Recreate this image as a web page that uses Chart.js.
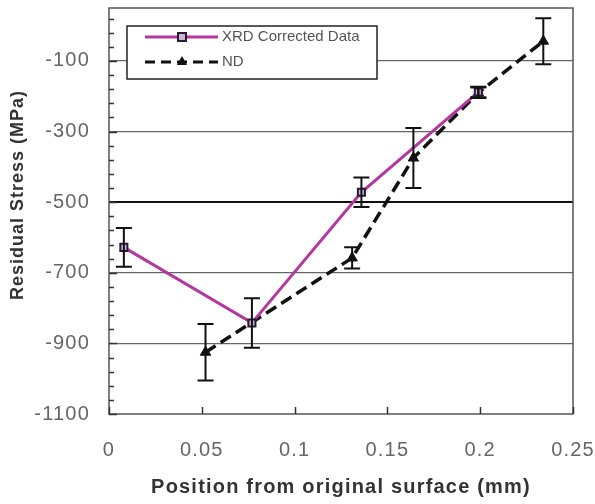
<!DOCTYPE html>
<html>
<head>
<meta charset="utf-8">
<script src="https://cdn.jsdelivr.net/npm/chart.js@4.4.1/dist/chart.umd.min.js"></script>
<style>
  html, body { margin: 0; padding: 0; background: #fff; }
  #wrap { width: 595px; height: 504px; }
</style>
</head>
<body>
<div id="wrap"><canvas id="chart" width="595" height="504"></canvas></div>
<script>
// Data
const xrdX = [0.008, 0.077, 0.136, 0.199];
const xrdY = [-628, -842, -472, -188];
const xrdErr = [55, 70, 42, 15];

const ndX = [0.052, 0.131, 0.164, 0.199, 0.234];
const ndY = [-925, -658, -375, -190, -44];
const ndErr = [80, 30, 85, 15, 65];

const xTicks = [0, 0.05, 0.1, 0.15, 0.2, 0.25];
const yTicks = [-1100, -900, -700, -500, -300, -100];
const yMinorStep = 40;

const FONT = "'Liberation Sans', Arial, sans-serif";
const MAGENTA = '#b3379f';

function toPoints(xs, ys) {
    return xs.map((x, i) => ({ x: x, y: ys[i] }));
}

// Error bars, frame, inward ticks, y title and the boxed legend
const extrasPlugin = {
    id: 'extras',
    beforeDraw(chart) {
        chart.ctx.letterSpacing = '1.2px';
    },
    afterDatasetsDraw(chart) {
        const ctx = chart.ctx;
        const xs = chart.scales.x, ys = chart.scales.y;
        const sets = [[xrdX, xrdY, xrdErr], [ndX, ndY, ndErr]];
        ctx.save();
        ctx.strokeStyle = '#111';
        ctx.lineWidth = 2;
        sets.forEach(([X, Y, E]) => {
            X.forEach((x, i) => {
                const px = xs.getPixelForValue(x);
                const top = ys.getPixelForValue(Y[i] + E[i]);
                const bot = ys.getPixelForValue(Y[i] - E[i]);
                ctx.beginPath();
                ctx.moveTo(px, top); ctx.lineTo(px, bot);
                ctx.moveTo(px - 8, top); ctx.lineTo(px + 8, top);
                ctx.moveTo(px - 8, bot); ctx.lineTo(px + 8, bot);
                ctx.stroke();
            });
        });
        ctx.restore();
    },
    afterDraw(chart) {
        const ctx = chart.ctx;
        const a = chart.chartArea;
        const xs = chart.scales.x, ys = chart.scales.y;
        ctx.save();
        // frame
        ctx.strokeStyle = '#555';
        ctx.lineWidth = 1.5;
        ctx.strokeRect(a.left, a.top, a.right - a.left, a.bottom - a.top);
        // y ticks (inward)
        ctx.strokeStyle = '#333';
        ctx.lineWidth = 1.5;
        for (let v = yTicks[0]; v <= ys.max; v += yMinorStep) {
            const py = Math.round(ys.getPixelForValue(v)) + 0.5;
            const major = yTicks.includes(v);
            ctx.beginPath();
            ctx.moveTo(a.left, py);
            ctx.lineTo(a.left + (major ? 8 : 5), py);
            ctx.stroke();
        }
        // x ticks (inward)
        xTicks.forEach(v => {
            const px = Math.round(xs.getPixelForValue(v)) + 0.5;
            ctx.beginPath();
            ctx.moveTo(px, a.bottom);
            ctx.lineTo(px, a.bottom - 7);
            ctx.stroke();
        });
        // y title
        ctx.save();
        ctx.letterSpacing = '1px';
        ctx.translate(18, 195);
        ctx.rotate(-Math.PI / 2);
        ctx.fillStyle = '#333';
        ctx.font = 'bold 18px ' + FONT;
        ctx.textAlign = 'center';
        ctx.textBaseline = 'middle';
        ctx.fillText('Residual Stress (MPa)', 0, 0);
        ctx.restore();
        // legend box
        ctx.letterSpacing = '0px';
        const lx = 127, ly = 26, lw = 250, lh = 53;
        ctx.fillStyle = '#fff';
        ctx.fillRect(lx, ly, lw, lh);
        ctx.strokeStyle = '#222';
        ctx.lineWidth = 1.5;
        ctx.strokeRect(lx, ly, lw, lh);
        // XRD entry
        ctx.strokeStyle = MAGENTA;
        ctx.lineWidth = 3;
        ctx.beginPath(); ctx.moveTo(145, 37); ctx.lineTo(218, 37); ctx.stroke();
        ctx.fillStyle = '#c9b7d0';
        ctx.fillRect(178, 33, 8, 8);
        ctx.strokeStyle = '#2a1a3a';
        ctx.lineWidth = 2;
        ctx.strokeRect(178, 33, 8, 8);
        // ND entry
        ctx.strokeStyle = '#111';
        ctx.lineWidth = 3;
        ctx.setLineDash([10, 6]);
        ctx.beginPath(); ctx.moveTo(145, 62); ctx.lineTo(218, 62); ctx.stroke();
        ctx.setLineDash([]);
        ctx.fillStyle = '#111';
        ctx.beginPath();
        ctx.moveTo(182, 56); ctx.lineTo(187, 65); ctx.lineTo(177, 65); ctx.closePath();
        ctx.fill();
        ctx.fillStyle = '#555';
        ctx.font = '15px ' + FONT;
        ctx.textBaseline = 'middle';
        ctx.fillText('XRD Corrected Data', 222, 37);
        ctx.fillText('ND', 222, 62);
        ctx.restore();
        ctx.letterSpacing = '0px';
    }
};

new Chart(document.getElementById('chart'), {
    type: 'line',
    data: {
        datasets: [
            {
                label: 'XRD Corrected Data',
                data: toPoints(xrdX, xrdY),
                borderColor: MAGENTA,
                borderWidth: 3,
                pointStyle: 'rect',
                pointRadius: 5,
                pointBackgroundColor: '#c9b7d0',
                pointBorderColor: '#2a1a3a',
                pointBorderWidth: 2,
                tension: 0
            },
            {
                label: 'ND',
                data: toPoints(ndX, ndY),
                borderColor: '#111',
                borderWidth: 3.5,
                borderDash: [12, 6],
                pointStyle: 'triangle',
                pointRadius: 6,
                pointBackgroundColor: '#111',
                pointBorderColor: '#111',
                pointBorderWidth: 1,
                tension: 0
            }
        ]
    },
    options: {
        responsive: false,
        animation: false,
        layout: { padding: { left: 0, top: 8, right: 22, bottom: 0 } },
        plugins: {
            legend: { display: false },
            tooltip: { enabled: false }
        },
        scales: {
            x: {
                type: 'linear',
                min: 0,
                max: 0.25,
                afterBuildTicks: (scale) => { scale.ticks = xTicks.map(v => ({ value: v })); },
                afterFit: (scale) => {
                    scale.height = 90;
                    scale.paddingLeft = 0;
                    scale.paddingRight = 0;
                },
                grid: { display: false },
                border: { display: false },
                ticks: {
                    color: '#666',
                    font: { family: FONT, size: 20 },
                    padding: 16,
                    maxRotation: 0,
                    callback: (v) => String(v)
                },
                title: {
                    display: true,
                    text: 'Position from original surface (mm)',
                    color: '#333',
                    font: { family: FONT, size: 20, weight: 'bold' },
                    padding: { top: 6, bottom: 5 }
                }
            },
            y: {
                min: -1100,
                max: 50,
                afterBuildTicks: (scale) => { scale.ticks = yTicks.map(v => ({ value: v })); },
                afterFit: (scale) => {
                    scale.width = 109;
                    scale.paddingTop = 0;
                    scale.paddingBottom = 0;
                },
                grid: {
                    drawTicks: false,
                    color: (c) => c.tick.value === -500 ? '#111' : (c.tick.value === -1100 ? 'rgba(0,0,0,0)' : '#666'),
                    lineWidth: (c) => c.tick.value === -500 ? 2 : 1.3
                },
                border: { display: false },
                ticks: {
                    color: '#666',
                    font: { family: FONT, size: 20 },
                    padding: 19,
                    callback: (v) => String(v)
                }
            }
        }
    },
    plugins: [extrasPlugin]
});
</script>
</body>
</html>
